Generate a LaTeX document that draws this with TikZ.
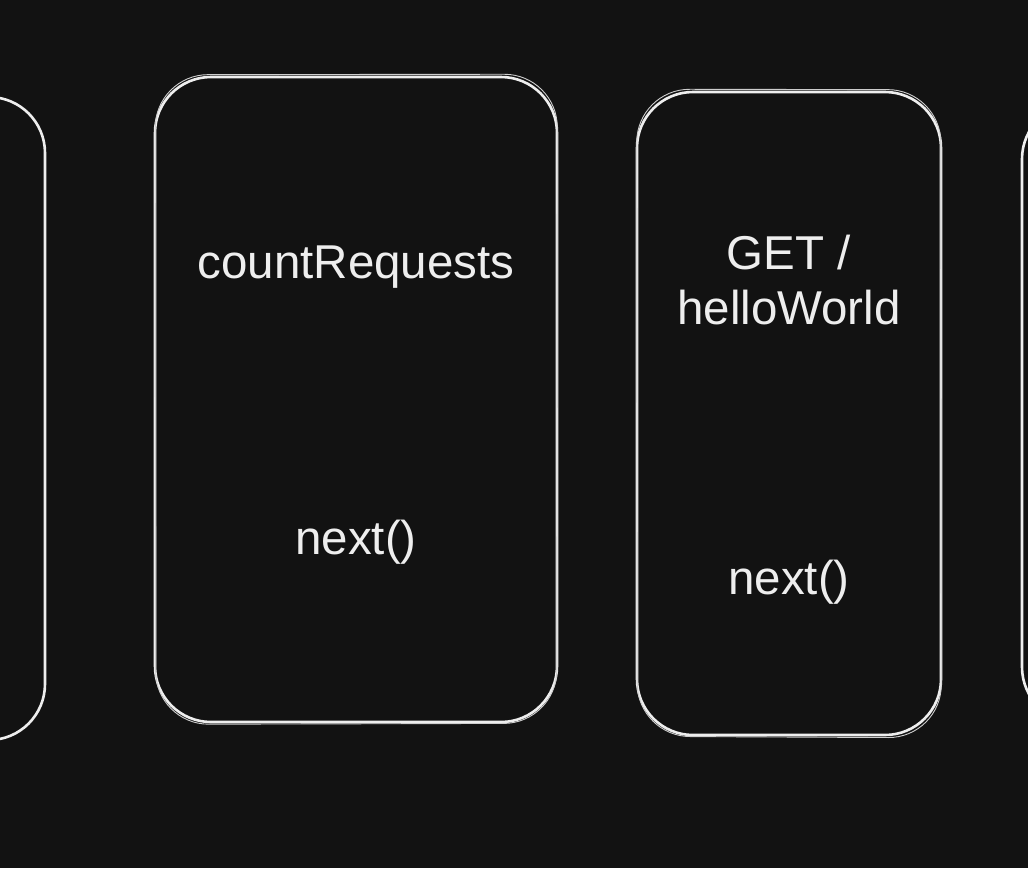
\documentclass[tikz,border=0pt]{standalone}
\usepackage{fontspec}
\setmainfont{Liberation Sans}
\definecolor{bg}{HTML}{121212}
\definecolor{ink}{HTML}{EEEEEE}
\begin{document}
\begin{tikzpicture}[x=1pt,y=-1pt,
  card/.style={draw=ink, line width=2.6pt, rounded corners=56pt, inner sep=0pt},
  sketch/.style={draw=ink!85!bg, line width=0.9pt, rounded corners=53pt},
  lbl/.style={text=ink, font=\fontsize{47.5}{55}\selectfont, align=center, inner sep=0pt}]
\fill[bg] (0,0) rectangle (1028,868);
\useasboundingbox (0,0) rectangle (1028,868);
\clip (0,0) rectangle (1028,868);
% boxes
\node[card, minimum width=305pt, minimum height=643pt] (leftbox) at (-107.5,418.5) {};
\node[card, minimum width=402pt, minimum height=645pt] (countbox) at (356,399.5) {};
\node[card, minimum width=304pt, minimum height=643pt] (getbox) at (789,413.5) {};
\node[card, minimum width=308pt, minimum height=620pt] (rightbox) at (1176,413) {};
% sketchy second strokes
\draw[sketch] ([xshift=1.5pt,yshift=1pt]countbox.north west)
  -- ([xshift=-1pt,yshift=1.5pt]countbox.north east)
  -- ([xshift=-1.5pt]countbox.south east) -- ([xshift=2pt,yshift=-1pt]countbox.south west) -- cycle;
\draw[sketch] ([xshift=1pt,yshift=1.5pt]getbox.north west)
  -- ([xshift=-1.5pt,yshift=1pt]getbox.north east)
  -- ([xshift=-1pt,yshift=-1.5pt]getbox.south east) -- ([xshift=1.5pt]getbox.south west) -- cycle;
% labels
\node[lbl] (countlbl) at (356,267) {countRequests};
\node[lbl] (countnext) at (356,542) {next()};
\node[lbl] (getlbl) at (789,280) {GET /\\helloWorld};
\node[lbl] (getnext) at (789,582) {next()};
\end{tikzpicture}
\end{document}
